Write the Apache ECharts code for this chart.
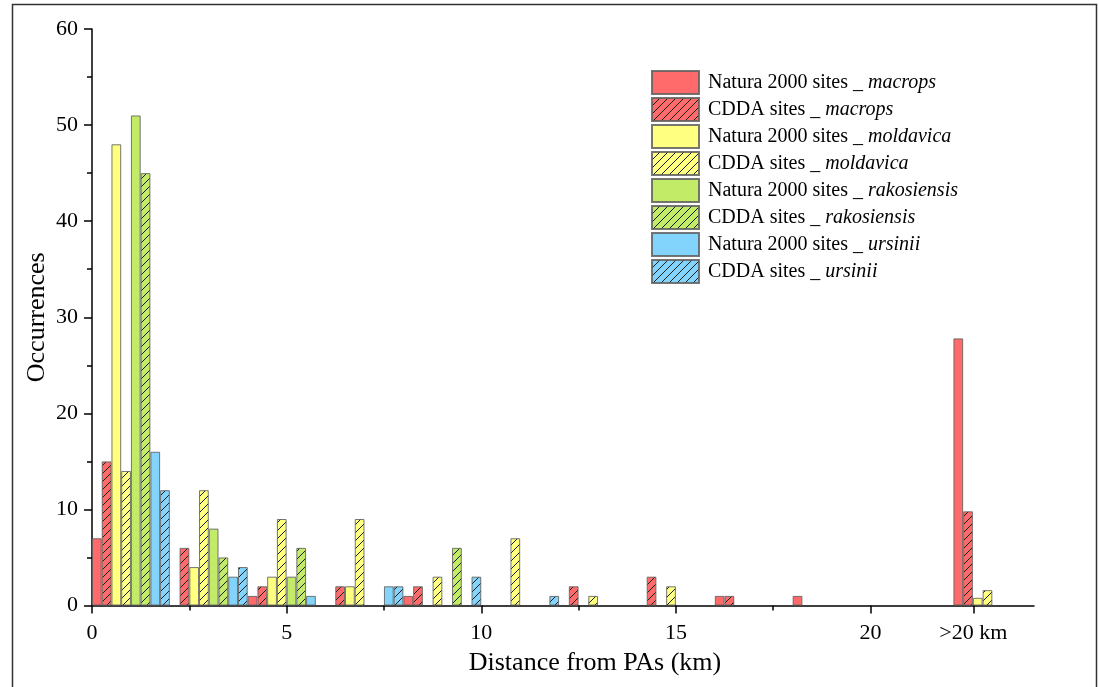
<!DOCTYPE html>
<html>
<head>
<meta charset="utf-8">
<title>Distance from PAs</title>
<script src="https://cdn.jsdelivr.net/npm/echarts@6/dist/echarts.min.js"></script>
<style>
  html, body { margin: 0; padding: 0; background: #fff; }
  #chart { width: 1099px; height: 687px; }
</style>
</head>
<body>
<div id="chart"></div>
<script>
// Distance bins: 0-2, 2-4, ... 18-20 km, then the ">20 km" group
const binCenters = [1, 3, 5, 7, 9, 11, 13, 15, 17, 19, 23.13];

// Occurrences per bin
const naturaMacrops     = [7, 0, 1, 0, 1, 0, 0, 0, 1, 1, 27.8];
const cddaMacrops       = [15, 6, 2, 2, 2, 0, 2, 3, 1, 0, 9.8];
const naturaMoldavica   = [48, 4, 3, 2, 0, 0, 0, 0, 0, 0, 0.8];
const cddaMoldavica     = [14, 12, 9, 9, 3, 7, 1, 2, 0, 0, 1.6];
const naturaRakosiensis = [51, 8, 3, 0, 0, 0, 0, 0, 0, 0, 0];
const cddaRakosiensis   = [45, 5, 6, 0, 6, 0, 0, 0, 0, 0, 0];
const naturaUrsinii     = [16, 3, 1, 2, 0, 0, 0, 0, 0, 0, 0];
const cddaUrsinii       = [12, 4, 0, 2, 3, 1, 0, 0, 0, 0, 0];

const seriesNames = [
  'Natura 2000 sites _ macrops',
  'CDDA sites _ macrops',
  'Natura 2000 sites _ moldavica',
  'CDDA sites _ moldavica',
  'Natura 2000 sites _ rakosiensis',
  'CDDA sites _ rakosiensis',
  'Natura 2000 sites _ ursinii',
  'CDDA sites _ ursinii'
];
const seriesValues = [
  naturaMacrops, cddaMacrops,
  naturaMoldavica, cddaMoldavica,
  naturaRakosiensis, cddaRakosiensis,
  naturaUrsinii, cddaUrsinii
];

// x-axis labelled ticks and minor ticks
const xTickValues = [0, 5, 10, 15, 20, 22.64];
const xTickLabels = ['0', '5', '10', '15', '20', '>20 km'];
const xMinorTicks = [2.5, 7.5, 12.5, 17.5];

const palette = ['#FF6A6A', '#FFFF80', '#C2EC68', '#82D4FC'];
const FONT = '"Liberation Serif", "Times New Roman", serif';

// diagonal hatch fill on a coloured background
function hatch(bg) {
  const c = document.createElement('canvas');
  c.width = 8; c.height = 8;
  const g = c.getContext('2d');
  g.fillStyle = bg;
  g.fillRect(0, 0, 8, 8);
  g.strokeStyle = '#1c1c1c';
  g.lineWidth = 1;
  g.beginPath();
  g.moveTo(0, 8); g.lineTo(8, 0);
  g.moveTo(-1, 1); g.lineTo(1, -1);
  g.moveTo(7, 9); g.lineTo(9, 7);
  g.stroke();
  return { image: c, repeat: 'repeat' };
}

const series = seriesNames.map((name, i) => {
  const base = palette[Math.floor(i / 2)];
  const hatched = i % 2 === 1;
  const data = [];
  seriesValues[i].forEach((v, k) => { if (v > 0) data.push([binCenters[k], v]); });
  return {
    name: name,
    type: 'bar',
    xAxisIndex: 0,
    yAxisIndex: 0,
    barWidth: '12.5%',
    barGap: '0%',
    itemStyle: {
      color: hatched ? hatch(base) : base,
      borderColor: 'rgba(95,95,95,0.85)',
      borderWidth: 1
    },
    data: data
  };
});

const chart = echarts.init(document.getElementById('chart'), null, { renderer: 'canvas' });

const gridRect = { left: 92, top: 29, right: 65, bottom: 81.5 };

chart.setOption({
  animation: false,
  backgroundColor: '#fff',
  graphic: [{
    type: 'rect',
    shape: { x: 12.5, y: 4.5, width: 1084, height: 720 },
    style: { fill: 'none', stroke: '#333', lineWidth: 1.5 },
    silent: true
  }],
  grid: [
    Object.assign({}, gridRect),
    Object.assign({}, gridRect)
  ],
  legend: {
    orient: 'vertical',
    left: 646,
    top: 65,
    itemWidth: 47,
    itemHeight: 23,
    itemGap: 2,
    icon: 'rect',
    data: seriesNames,
    formatter: function (name) {
      const parts = name.split('_ ');
      return parts[0] + '_ {i|' + parts[1] + '}';
    },
    textStyle: {
      fontFamily: FONT,
      fontSize: 20,
      lineHeight: 23,
      color: '#000',
      padding: [0, 0, 0, 4],
      rich: {
        i: { fontFamily: FONT, fontSize: 20, lineHeight: 23, fontStyle: 'italic', color: '#000' }
      }
    }
  },
  xAxis: [{
    type: 'value',
    gridIndex: 0,
    min: 0,
    max: 24.2,
    splitLine: { show: false },
    axisLine: { lineStyle: { color: '#000', width: 1.5 } },
    axisTick: { show: true, length: 8, customValues: xTickValues, lineStyle: { color: '#000', width: 1.5 } },
    axisLabel: {
      customValues: xTickValues,
      margin: 17,
      fontFamily: FONT,
      fontSize: 22,
      color: '#000',
      formatter: function (v) {
        const k = xTickValues.findIndex(t => Math.abs(t - v) < 1e-6);
        return k >= 0 ? xTickLabels[k] : '';
      }
    },
    name: 'Distance from PAs (km)',
    nameLocation: 'middle',
    nameGap: 45,
    nameMoveOverlap: false,
    nameTextStyle: { fontFamily: FONT, fontSize: 26, color: '#000', padding: [0, 0, 0, 64] }
  }, {
    type: 'value',
    gridIndex: 1,
    min: 0,
    max: 24.2,
    splitLine: { show: false },
    axisLine: { show: false },
    axisLabel: { show: false },
    axisTick: { show: true, length: 5, customValues: xMinorTicks, lineStyle: { color: '#000', width: 1.5 } }
  }],
  yAxis: [{
    type: 'value',
    gridIndex: 0,
    min: 0,
    max: 60,
    interval: 10,
    splitLine: { show: false },
    axisLine: { show: true, lineStyle: { color: '#000', width: 1.5 } },
    axisTick: { show: true, length: 8, lineStyle: { color: '#000', width: 1.5 } },
    minorTick: { show: true, splitNumber: 2, length: 5, lineStyle: { color: '#000', width: 1.5 } },
    axisLabel: { margin: 14, fontFamily: FONT, fontSize: 22, color: '#000' },
    name: 'Occurrences',
    nameLocation: 'middle',
    nameGap: 42,
    nameMoveOverlap: false,
    nameTextStyle: { fontFamily: FONT, fontSize: 26, color: '#000' }
  }, {
    type: 'value',
    gridIndex: 1,
    min: 0,
    max: 60,
    show: false
  }],
  series: series
});
</script>
</body>
</html>
